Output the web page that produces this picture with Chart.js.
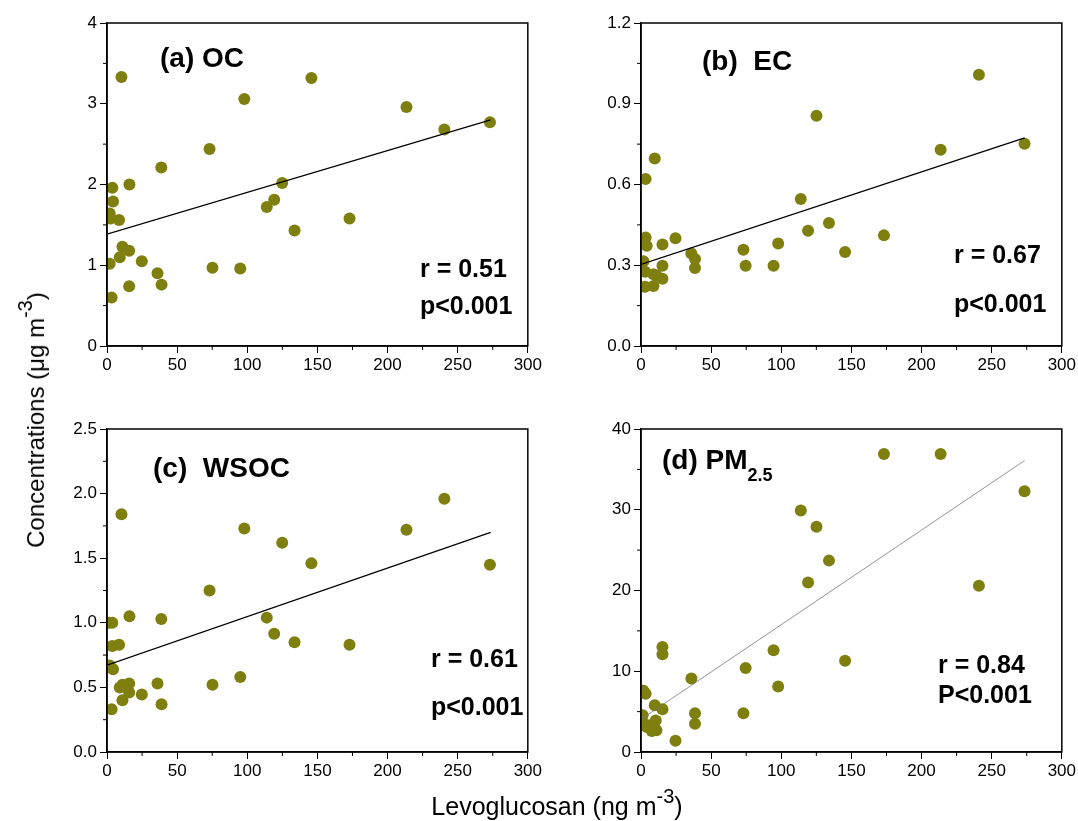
<!DOCTYPE html>
<html>
<head>
<meta charset="utf-8">
<script src="https://cdn.jsdelivr.net/npm/chart.js@4.4.1/dist/chart.umd.min.js"></script>
<style>
  body { margin: 0; background: #fff; width: 1078px; height: 821px; position: relative; overflow: hidden;
         font-family: 'Liberation Sans', Arial, sans-serif; }
  canvas { position: absolute; }
  .ytitle { position: absolute; left: 36px; top: 420px; font-size: 24px; line-height: 1; white-space: nowrap;
            transform: translate(-50%, -50%) rotate(-90deg); }
  .xtitle { position: absolute; left: 557px; top: 794px; font-size: 25px; line-height: 1; white-space: nowrap;
            transform: translateX(-50%); }
  sup { font-size: 20px; vertical-align: 12px; line-height: 0; }
</style>
</head>
<body>
<canvas id="ca" width="504" height="380" style="left:40px;top:0px"></canvas>
<canvas id="cb" width="504" height="380" style="left:574px;top:0px"></canvas>
<canvas id="cc" width="504" height="386" style="left:40px;top:400px"></canvas>
<canvas id="cd" width="504" height="386" style="left:574px;top:400px"></canvas>
<div class="ytitle">Concentrations (μg m<sup>-3</sup>)</div>
<div class="xtitle">Levoglucosan (ng m<sup>-3</sup>)</div>
<script>
// levoglucosan (x) and concentration (y)
const ocX = [10.3, 145.7, 97.9, 213.5, 273, 240.5, 73.1, 38.7, 3.8, 16, 124.9, 4.3, 119.2, 113.9, 1.9, 2.6, 8.6, 172.9, 133.7, 11, 15.8, 9.1, 24.8, 1.9, 75.2, 95, 36, 38.9, 15.8, 3.3];
const ocY = [3.33, 3.32, 3.06, 2.96, 2.77, 2.68, 2.44, 2.21, 1.96, 2.00, 2.02, 1.79, 1.81, 1.72, 1.64, 1.58, 1.56, 1.58, 1.43, 1.23, 1.18, 1.10, 1.05, 1.02, 0.97, 0.96, 0.90, 0.76, 0.74, 0.60];
const ecX = [240.9, 125.1, 273.4, 213.6, 9.8, 3.3, 113.9, 134, 119.1, 173.2, 3.3, 24.6, 15.3, 4.1, 97.8, 73, 145.5, 35.9, 38.5, 1.7, 15.3, 74.6, 94.5, 38.5, 2.9, 8.9, 15.3, 2.9, 8.9, 11];
const ecY = [1.008, 0.855, 0.751, 0.729, 0.697, 0.620, 0.546, 0.457, 0.428, 0.411, 0.403, 0.400, 0.377, 0.372, 0.381, 0.358, 0.349, 0.344, 0.323, 0.315, 0.298, 0.298, 0.298, 0.290, 0.276, 0.267, 0.250, 0.220, 0.223, 0.262];
const wsocX = [240.5, 10.3, 97.9, 213.5, 124.9, 145.7, 273, 73.1, 16, 38.7, 113.9, 3.8, 1.5, 119.2, 133.7, 172.9, 3.8, 8.6, 1.9, 4.3, 95, 36, 15.8, 11, 75.2, 9.1, 15.8, 24.8, 11, 38.9, 3.3];
const wsocY = [1.96, 1.84, 1.73, 1.72, 1.62, 1.46, 1.45, 1.25, 1.05, 1.03, 1.04, 1.00, 1.00, 0.915, 0.85, 0.83, 0.82, 0.83, 0.67, 0.64, 0.58, 0.53, 0.53, 0.52, 0.52, 0.50, 0.46, 0.445, 0.40, 0.37, 0.33];
const pmX = [173.2, 213.6, 273.4, 113.9, 125.1, 134, 119.1, 240.9, 15.3, 15.3, 94.5, 145.5, 74.6, 35.9, 97.8, 1.7, 3.3, 9.8, 15.3, 38.5, 73, 1.2, 10.5, 38.5, 2.9, 6.5, 11, 7.7, 24.6, 4.1];
const pmY = [36.9, 36.9, 32.3, 29.9, 27.9, 23.7, 21.0, 20.6, 13.0, 12.1, 12.6, 11.3, 10.4, 9.1, 8.1, 7.6, 7.2, 5.8, 5.3, 4.8, 4.8, 4.55, 3.9, 3.5, 3.4, 3.3, 2.7, 2.6, 1.4, 3.1];

// regression line end points [x0, x1] and [y0, y1]
const fitX = [0, 273.5];
const ocFit = [1.386, 2.80];
const ecFit = [0.303, 0.773];
const wsocFit = [0.672, 1.70];
const pmFit = [4.05, 36.1];

const xTicks = { min: 0, max: 300, step: 50, minor: 25 };
const OLIVE = '#7f7f10';
const FONT = "'Liberation Sans', Arial, sans-serif";

const panels = [
  { id: 'ca', xs: ocX, ys: ocY, fit: ocFit, yMax: 4, step: 1, minor: 0.5, dec: 0, padTop: 23,
    title: ['(a) OC', ''], tx: 53, ty: 44, stat: ['r = 0.51', 'p<0.001'], sx: 313, sy: [254, 291], fitColor: '#000', fitW: 1.3 },
  { id: 'cb', xs: ecX, ys: ecY, fit: ecFit, yMax: 1.2, step: 0.3, minor: 0.15, dec: 1, padTop: 23,
    title: ['(b)  EC', ''], tx: 61, ty: 47, stat: ['r = 0.67', 'p<0.001'], sx: 313, sy: [240, 289], fitColor: '#000', fitW: 1.3 },
  { id: 'cc', xs: wsocX, ys: wsocY, fit: wsocFit, yMax: 2.5, step: 0.5, minor: 0.25, dec: 1, padTop: 29,
    title: ['(c)  WSOC', ''], tx: 46, ty: 48, stat: ['r = 0.61', 'p<0.001'], sx: 324, sy: [238, 286], fitColor: '#000', fitW: 1.3 },
  { id: 'cd', xs: pmX, ys: pmY, fit: pmFit, yMax: 40, step: 10, minor: 5, dec: 0, padTop: 29,
    title: ['(d) PM', '2.5'], tx: 21, ty: 40, stat: ['r = 0.84', 'P<0.001'], sx: 297, sy: [244, 274], fitColor: '#777', fitW: 0.8 }
];

const framePlugin = {
  id: 'frame',
  afterDraw(chart, args, o) {
    const { ctx, chartArea: a, scales } = chart;
    ctx.save();
    ctx.strokeStyle = '#000';
    ctx.lineWidth = 1.5;
    ctx.strokeRect(a.left, a.top, a.right - a.left, a.bottom - a.top);
    // minor ticks
    ctx.lineWidth = 1;
    ctx.beginPath();
    for (let v = xTicks.minor; v < xTicks.max; v += xTicks.step) {
      const px = scales.x.getPixelForValue(v);
      ctx.moveTo(px, a.bottom); ctx.lineTo(px, a.bottom + 4);
    }
    for (let v = o.minor; v < o.yMax; v += o.step) {
      const py = scales.y.getPixelForValue(v);
      ctx.moveTo(a.left, py); ctx.lineTo(a.left - 4, py);
    }
    ctx.stroke();
    // labels
    ctx.fillStyle = '#000';
    ctx.textBaseline = 'alphabetic';
    ctx.font = 'bold 28px ' + FONT;
    ctx.fillText(o.title[0], a.left + o.tx, a.top + o.ty);
    if (o.title[1]) {
      const w = ctx.measureText(o.title[0]).width;
      ctx.font = 'bold 18px ' + FONT;
      ctx.fillText(o.title[1], a.left + o.tx + w, a.top + o.ty + 12);
    }
    ctx.font = 'bold 25px ' + FONT;
    ctx.fillText(o.stat[0], a.left + o.sx, a.top + o.sy[0]);
    ctx.fillText(o.stat[1], a.left + o.sx, a.top + o.sy[1]);
    ctx.restore();
  }
};

panels.forEach(p => {
  const pts = p.xs.map((x, i) => ({ x: x, y: p.ys[i] }));
  const line = fitX.map((x, i) => ({ x: x, y: p.fit[i] }));
  new Chart(document.getElementById(p.id), {
    type: 'scatter',
    data: {
      datasets: [
        { type: 'line', data: line, borderColor: p.fitColor, borderWidth: p.fitW, pointRadius: 0, fill: false },
        { data: pts, backgroundColor: OLIVE, borderWidth: 0, pointRadius: 6 }
      ]
    },
    plugins: [framePlugin],
    options: {
      responsive: false,
      animation: false,
      layout: { padding: { top: p.padTop, right: 14, left: 0, bottom: 0 } },
      plugins: { legend: { display: false }, tooltip: { enabled: false }, frame: p },
      scales: {
        x: {
          type: 'linear', min: xTicks.min, max: xTicks.max,
          ticks: { stepSize: xTicks.step, color: '#000', font: { family: FONT, size: 17 }, padding: 2, maxRotation: 0 },
          grid: { drawOnChartArea: false, tickLength: 7, color: '#000', tickColor: '#000' },
          border: { color: '#000', width: 1.5 },
          afterFit: s => { s.height = 34; }
        },
        y: {
          type: 'linear', min: 0, max: p.yMax,
          ticks: { stepSize: p.step, color: '#000', font: { family: FONT, size: 17 }, padding: 3,
                   callback: v => Number(v).toFixed(p.dec) },
          grid: { drawOnChartArea: false, tickLength: 7, color: '#000', tickColor: '#000' },
          border: { color: '#000', width: 1.5 },
          afterFit: s => { s.width = 67; }
        }
      }
    }
  });
});
</script>
</body>
</html>
